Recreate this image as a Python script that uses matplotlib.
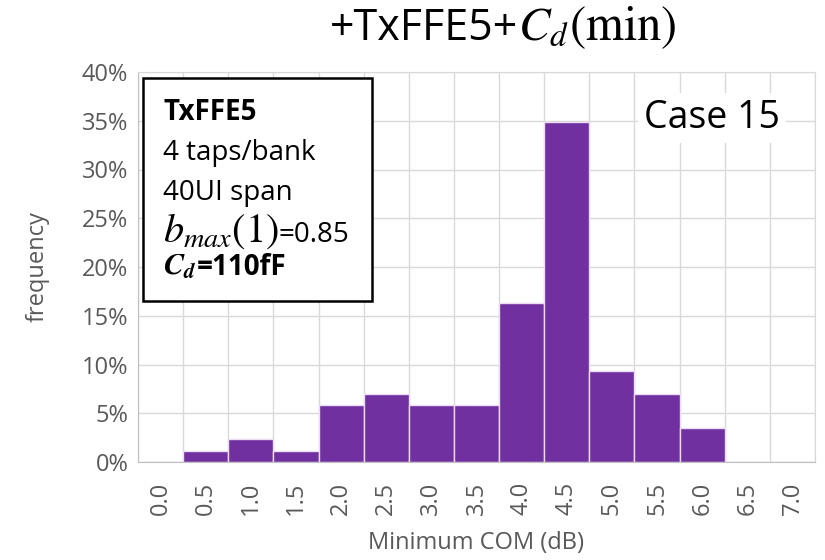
import matplotlib
matplotlib.use("Agg")
import matplotlib.pyplot as plt
from matplotlib.patches import Rectangle
from matplotlib.ticker import FuncFormatter, MultipleLocator

# === DATA ====================================================================
bins = ["0.0", "0.5", "1.0", "1.5", "2.0", "2.5", "3.0", "3.5",
        "4.0", "4.5", "5.0", "5.5", "6.0", "6.5", "7.0"]
freq_pct = [0.0, 1.16, 2.33, 1.16, 5.81, 6.98, 5.81, 5.81,
            16.3, 34.9, 9.30, 6.98, 3.49, 0.0, 0.0]

case_txt = "Case 15"
# each line = list of (text, fontsize, weight) pieces
title_pieces = [("+TxFFE5+", 31, "normal"), (r"$C_d$", 34, "normal"),
                (r"$(\mathrm{min})$", 35, "normal")]
box_lines = [
    [("TxFFE5", 20, "bold")],
    [("4 taps/bank", 20, "normal")],
    [("40UI span", 20, "normal")],
    [(r"$b_{max}(1)$", 29, "normal"), ("=0.85", 20, "normal")],
    [(r"$\mathbfit{C}_{\mathbfit{d}}$", 22, "normal"), ("=110fF", 20, "bold")],
]
box_baselines = [120, 160, 200, 242, 275]
# ============================================================================

BAR = "#7030A0"
GRAY = "#595959"
GRID = "#D9D9D9"
W, H = 825, 560

plt.rcParams["font.family"] = ["Open Sans", "DejaVu Sans"]
plt.rcParams["mathtext.fontset"] = "stix"

fig = plt.figure(figsize=(W / 100, H / 100), dpi=100)
ax = fig.add_axes([138 / W, 1 - 462 / H, (815 - 138) / W, (462 - 72) / H])

x = list(range(len(bins)))
ax.bar(x, freq_pct, width=1.0, color=BAR, edgecolor="#EBDDF5", linewidth=1.0, zorder=2)

ax.set_xlim(-0.5, len(bins) - 0.5)
ax.set_ylim(0, 40)
ax.yaxis.set_major_locator(MultipleLocator(5))
ax.yaxis.set_major_formatter(FuncFormatter(lambda v, p: f"{v:.0f}%"))
ax.set_xticks(x)
ax.set_xticklabels(bins, rotation=90)

# grid lines on category boundaries
for b in range(len(bins) + 1):
    ax.axvline(b - 0.5, color=GRID, lw=1.0, zorder=0)
ax.yaxis.grid(True, color=GRID, lw=1.0, zorder=0)
ax.set_axisbelow(True)

for s in ax.spines.values():
    s.set_color(GRID)
ax.spines["left"].set_color("#BFBFBF")
ax.spines["bottom"].set_color("#BFBFBF")

ax.tick_params(axis="both", length=0, labelsize=17, colors=GRAY, pad=7)
ax.tick_params(axis="x", pad=14)

ax.set_xlabel("Minimum COM (dB)", fontsize=17, color=GRAY, labelpad=12)
ax.set_ylabel("frequency", fontsize=17, color=GRAY, labelpad=23)

# overlay axes in pixel coordinates for the text pieces
ax_box = fig.add_axes([0, 0, 1, 1], facecolor="none")
ax_box.set_xlim(0, W)
ax_box.set_ylim(H, 0)
ax_box.axis("off")
renderer = fig.canvas.get_renderer()


def draw_run(x0, y0, pieces):
    xx = x0
    for s, size, wt in pieces:
        t = ax_box.text(xx, y0, s, fontsize=size, fontweight=wt,
                        ha="left", va="baseline", color="black")
        xx += t.get_window_extent(renderer=renderer).width
    return xx


# title
draw_run(330, 40, title_pieces)

# annotation box
ax_box.add_patch(Rectangle((143, 78), 229, 223, facecolor="white",
                           edgecolor="black", lw=1.8))
for yb, line in zip(box_baselines, box_lines):
    draw_run(163, yb, line)

ax_box.text(712, 118, case_txt, fontsize=27, ha="center", va="center",
            color="black", bbox=dict(facecolor="white", edgecolor="none", pad=4))

fig.savefig("out.png", dpi=100)
